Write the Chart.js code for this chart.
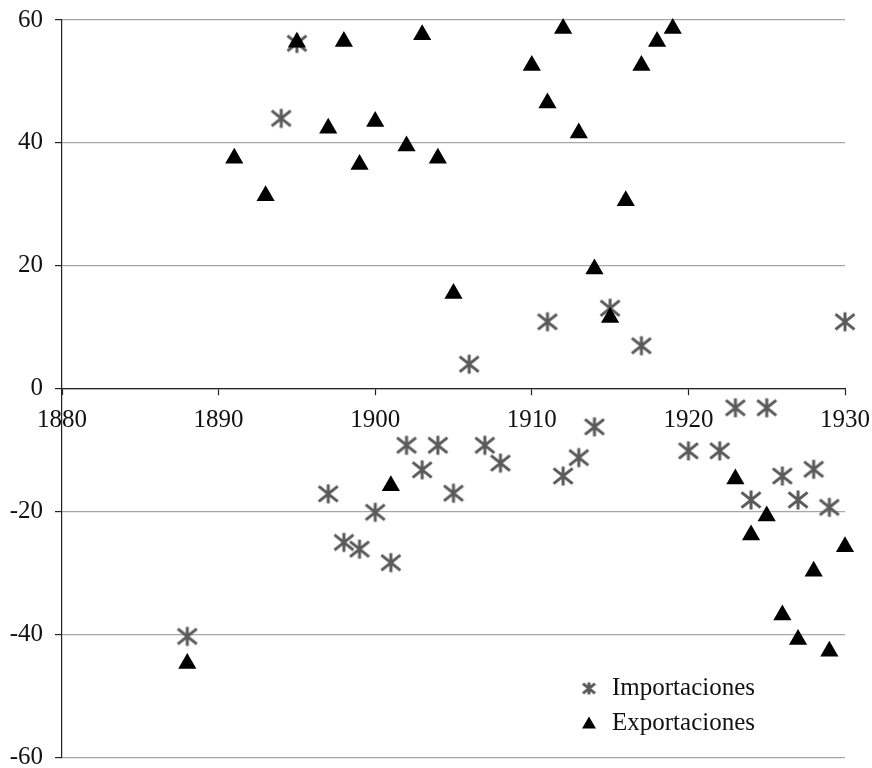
<!DOCTYPE html>
<html>
<head>
<meta charset="utf-8">
<script src="https://cdn.jsdelivr.net/npm/chart.js@4.4.1/dist/chart.umd.min.js"></script>
<style>
  html, body { margin: 0; padding: 0; background: #fff; }
  #wrap { width: 872px; height: 768px; position: relative; }
</style>
</head>
<body>
<div id="wrap"><canvas id="c"></canvas></div>
<script>
// años e índices
const impYears = [1888, 1894, 1895, 1897, 1898, 1899, 1900, 1901, 1902, 1903, 1904, 1905, 1906, 1907, 1908,
  1911, 1912, 1913, 1914, 1915, 1917, 1920, 1922, 1923, 1924, 1925, 1926, 1927, 1928, 1929, 1930];
const impValues = [-40.3, 44, 56.2, -17.1, -25, -26.1, -20.1, -28.3, -9.2, -13.2, -9.2, -17, 4, -9.2, -12.1,
  10.9, -14.2, -11.2, -6.2, 13.1, 7, -10.1, -10.1, -3.1, -18.1, -3.1, -14.2, -18.1, -13.1, -19.3, 10.9];

const expYears = [1888, 1891, 1893, 1895, 1897, 1898, 1899, 1900, 1901, 1902, 1903, 1904, 1905,
  1910, 1911, 1912, 1913, 1914, 1915, 1916, 1917, 1918, 1919,
  1923, 1924, 1925, 1926, 1927, 1928, 1929, 1930];
const expValues = [-44.7, 37.5, 31.4, 56.4, 42.4, 56.5, 36.5, 43.5, -15.8, 39.5, 57.6, 37.5, 15.5,
  52.6, 46.5, 58.6, 41.6, 19.5, 11.6, 30.6, 52.6, 56.5, 58.6,
  -14.7, -23.8, -20.7, -36.8, -40.8, -29.7, -42.7, -25.7];

const xTicks = [1880, 1890, 1900, 1910, 1920, 1930];
const yTicks = [-60, -40, -20, 0, 20, 40, 60];
const seriesNames = ['Importaciones', 'Exportaciones'];

const FONT = 'Liberation Serif';
const GREY = '#5a5a5a';

// asterisco tipo Excel: X con trazo vertical
function makeStar(size, lw) {
  const cv = document.createElement('canvas');
  cv.width = size; cv.height = size;
  const g = cv.getContext('2d');
  g.strokeStyle = GREY;
  g.lineWidth = lw;
  const m = size / 2, a = size / 2 - 1.5;
  g.beginPath();
  g.moveTo(m, m - a); g.lineTo(m, m + a);
  g.moveTo(m - a, m - a * 0.8); g.lineTo(m + a, m + a * 0.8);
  g.moveTo(m + a, m - a * 0.8); g.lineTo(m - a, m + a * 0.8);
  g.stroke();
  return cv;
}
const starBig = makeStar(22, 3);
const starSmall = makeStar(15, 3);

const toPts = (xs, ys) => xs.map((x, i) => ({ x: x, y: ys[i] }));

const legendPlugin = {
  id: 'cornerLegend',
  afterDraw(chart) {
    const ctx = chart.ctx, a = chart.chartArea;
    const mx = a.right - 256, tx = a.right - 233;
    const rows = [a.bottom - 69, a.bottom - 34];
    ctx.save();
    ctx.drawImage(starSmall, mx - 7.5, rows[0] - 7.5);
    ctx.fillStyle = '#000';
    const r = 8;
    ctx.beginPath();
    ctx.moveTo(mx, rows[1] - r * 0.75 - 1);
    ctx.lineTo(mx + r * 0.87, rows[1] + r * 0.75 - 1);
    ctx.lineTo(mx - r * 0.87, rows[1] + r * 0.75 - 1);
    ctx.closePath();
    ctx.fill();
    ctx.font = '25px "' + FONT + '"';
    ctx.fillStyle = '#111';
    ctx.textBaseline = 'middle';
    ctx.textAlign = 'left';
    ctx.fillText(seriesNames[0], tx, rows[0]);
    ctx.fillText(seriesNames[1], tx, rows[1]);
    ctx.restore();
  }
};

new Chart(document.getElementById('c'), {
  type: 'scatter',
  data: {
    datasets: [
      {
        label: seriesNames[0],
        data: toPts(impYears, impValues),
        pointStyle: starBig,
        clip: false,
        order: 2
      },
      {
        label: seriesNames[1],
        data: toPts(expYears, expValues),
        pointStyle: 'triangle',
        pointRadius: 10.5,
        backgroundColor: '#000',
        borderColor: '#000',
        borderWidth: 0,
        clip: false,
        order: 1
      }
    ]
  },
  options: {
    responsive: true,
    maintainAspectRatio: false,
    animation: false,
    layout: { padding: { left: 0, top: 20, right: 27, bottom: 9 } },
    plugins: { legend: { display: false }, tooltip: { enabled: false } },
    scales: {
      x: {
        type: 'linear',
        position: { y: 0 },
        min: 1880, max: 1930,
        afterBuildTicks: s => { s.ticks = xTicks.map(v => ({ value: v })); },
        afterFit: s => { s.paddingLeft = 0; s.paddingRight = 0; },
        ticks: {
          callback: v => String(v),
          font: { family: FONT, size: 25 },
          color: '#111',
          padding: 11,
          maxRotation: 0
        },
        grid: { drawOnChartArea: false, drawTicks: true, tickLength: 6, tickColor: '#222', tickWidth: 1.2 },
        border: { color: '#222', width: 1.2 }
      },
      y: {
        min: -60, max: 60,
        afterBuildTicks: s => { s.ticks = yTicks.map(v => ({ value: v })); },
        afterFit: s => { s.width = 62; s.paddingTop = 0; s.paddingBottom = 0; },
        ticks: {
          callback: v => String(v),
          font: { family: FONT, size: 25 },
          color: '#111',
          padding: 12
        },
        grid: { color: '#a6a6a6', lineWidth: 1.2, tickLength: 7, tickColor: '#222', tickWidth: 1.2 },
        border: { color: '#222', width: 1.2 }
      }
    }
  },
  plugins: [legendPlugin]
});
</script>
</body>
</html>
